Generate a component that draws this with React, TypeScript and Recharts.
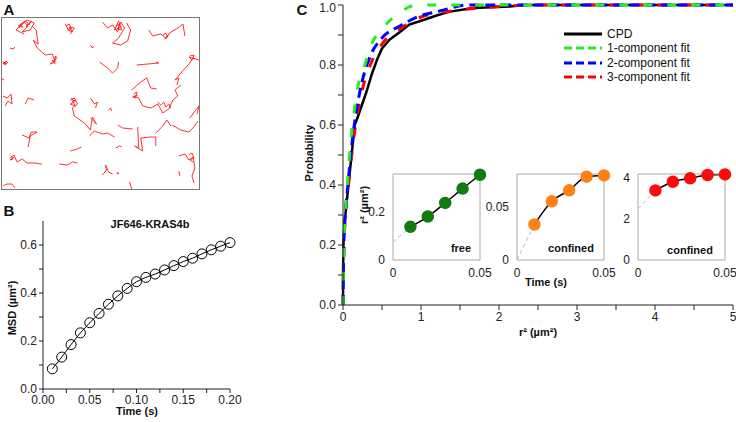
import React from 'react';
import {
    ScatterChart,
    Scatter,
    LineChart,
    Line,
    XAxis,
    YAxis,
    Legend
} from 'recharts';

const FONT = '"Liberation Sans", Arial, Helvetica, sans-serif';

// Panel A: single-molecule tracks (box pixel space, y from top)
const tracks: number[][][] = [
    [[17, 10], [22, 4], [26, 8], [20, 14], [28, 12], [32, 5], [25, 2], [19, 7], [14, 12], [22, 16]],
    [[18, 6], [21, 9], [16, 8], [23, 3], [26, 5], [24, 9], [29, 3], [27, 7]],
    [[30, 8], [34, 12], [36, 26], [31, 22], [35, 30], [43, 37], [50, 36], [53, 44], [48, 46], [55, 40]],
    [[51, 40], [54, 38], [52, 44], [50, 42], [53, 46]],
    [[63, 6], [66, 12], [70, 14], [67, 9], [72, 10], [68, 16]],
    [[64, 8], [67, 6], [69, 11], [65, 11], [68, 13]],
    [[100, 4], [105, 10], [110, 7], [115, 14], [118, 4], [122, 10], [116, 20], [110, 25], [118, 27], [125, 23], [128, 12], [124, 5]],
    [[113, 8], [117, 6], [115, 11], [119, 12], [116, 3], [112, 12], [119, 9]],
    [[146, 12], [150, 18], [158, 16], [163, 20], [168, 14], [175, 10], [180, 6], [182, 18]],
    [[160, 17], [163, 15], [165, 19], [162, 21], [166, 16]],
    [[8, 30], [11, 31], [13, 29]],
    [[88, 27], [90, 30], [91, 28]],
    [[97, 44], [105, 50], [110, 55], [115, 50], [116, 44]],
    [[134, 47], [145, 46], [156, 45], [153, 44]],
    [[1, 44], [4, 46], [6, 44], [3, 47], [2, 45], [5, 43], [1, 46], [4, 44]],
    [[129, 72], [138, 64], [144, 60], [148, 70], [154, 71]],
    [[196, 42], [190, 40], [186, 46], [178, 55], [172, 62], [176, 60], [174, 67]],
    [[187, 38], [191, 37], [189, 42], [186, 39], [192, 41]],
    [[131, 78], [136, 80], [140, 88], [148, 90], [155, 86], [160, 95], [166, 91], [170, 82], [175, 78], [172, 72], [178, 67]],
    [[131, 76], [134, 74], [133, 80], [130, 79], [135, 77]],
    [[155, 84], [158, 87], [161, 84], [163, 89], [166, 86], [168, 90]],
    [[1, 78], [5, 80], [9, 76], [10, 86], [6, 83], [3, 88]],
    [[23, 86], [26, 80], [32, 82]],
    [[68, 82], [72, 80], [75, 86], [70, 90], [72, 98], [82, 105], [88, 112], [90, 99], [94, 106], [88, 100]],
    [[69, 80], [72, 84], [68, 86], [73, 88], [70, 83], [74, 82]],
    [[88, 80], [92, 86], [95, 84], [93, 90]],
    [[106, 92], [108, 90], [109, 93]],
    [[187, 100], [192, 93], [196, 88], [194, 96]],
    [[169, 107], [178, 112], [186, 114], [190, 110], [195, 103]],
    [[153, 115], [160, 108], [164, 102], [168, 108]],
    [[87, 118], [92, 113], [100, 116], [105, 115], [112, 119]],
    [[115, 107], [120, 110], [130, 111]],
    [[135, 109], [136, 130], [132, 128], [140, 133], [138, 120], [148, 119], [153, 119], [153, 128]],
    [[20, 117], [27, 120], [29, 114], [35, 114], [28, 118], [26, 129]],
    [[68, 133], [75, 131], [79, 129]],
    [[113, 130], [117, 128], [119, 129]],
    [[8, 140], [12, 137], [15, 144], [20, 141], [25, 145], [33, 145], [38, 146], [40, 146]],
    [[9, 138], [11, 141], [8, 142], [12, 139]],
    [[57, 146], [65, 147], [70, 144], [75, 145]],
    [[100, 157], [104, 152], [103, 147], [106, 154], [110, 156]],
    [[114, 155], [116, 156], [115, 154]],
    [[176, 138], [182, 136], [186, 142], [190, 139], [192, 150], [189, 158], [191, 165]],
    [[186, 137], [189, 135], [191, 140], [187, 142], [190, 144]],
    [[176, 153], [177, 158]],
    [[1, 168], [5, 166], [10, 166], [13, 170]],
    [[127, 164], [129, 171]],
    [[0, 61], [2, 62]]
];

// Panel B: MSD vs time
const msdTime = [0.01, 0.02, 0.03, 0.04, 0.05, 0.06, 0.07, 0.08, 0.09, 0.10,
    0.11, 0.12, 0.13, 0.14, 0.15, 0.16, 0.17, 0.18, 0.19, 0.20];
const msdValues = [0.084, 0.133, 0.185, 0.234, 0.276, 0.315, 0.353, 0.388, 0.419, 0.447,
    0.465, 0.479, 0.496, 0.514, 0.531, 0.545, 0.563, 0.58, 0.595, 0.61];
const bTimeTicks = [0, 0.025, 0.05, 0.075, 0.1, 0.125, 0.15, 0.175, 0.2];
const bMsdTicks = [0, 0.1, 0.2, 0.3, 0.4, 0.5, 0.6];

// Panel C: cumulative probability distribution and fits
const cpdR2 = [0, 0.002, 0.005, 0.01, 0.02, 0.03, 0.05, 0.07, 0.09, 0.11, 0.13, 0.15, 0.18, 0.22, 0.26, 0.3, 0.37, 0.44, 0.5, 0.6, 0.73, 0.85, 1.03, 1.2, 1.37, 1.67, 2.14, 2.3, 5];
const cpdProb = [0, 0.12, 0.2, 0.22, 0.28, 0.3, 0.35, 0.4, 0.45, 0.5, 0.55, 0.6, 0.62, 0.65, 0.68, 0.71, 0.77, 0.82, 0.855, 0.885, 0.91, 0.935, 0.95, 0.965, 0.978, 0.99, 0.995, 1, 1];
const fit1R2 = [0, 0.01, 0.03, 0.06, 0.1, 0.15, 0.2, 0.28, 0.35, 0.5, 0.7, 0.95, 5];
const fit1Prob = [0, 0.2, 0.3, 0.42, 0.55, 0.66, 0.74, 0.8, 0.86, 0.92, 0.97, 1, 1];
const fit2R2 = [0, 0.01, 0.03, 0.07, 0.12, 0.18, 0.25, 0.35, 0.5, 0.73, 0.95, 1.24, 1.6, 5];
const fit2Prob = [0, 0.2, 0.3, 0.42, 0.55, 0.66, 0.75, 0.83, 0.89, 0.93, 0.96, 0.98, 1, 1];
const fit3R2 = [0, 0.01, 0.03, 0.07, 0.12, 0.18, 0.25, 0.35, 0.5, 0.73, 1.0, 1.4, 2.0, 2.6, 5];
const fit3Prob = [0, 0.15, 0.3, 0.4, 0.52, 0.63, 0.72, 0.8, 0.87, 0.92, 0.96, 0.98, 0.995, 1, 1];
const cR2Ticks = [0, 0.5, 1, 1.5, 2, 2.5, 3, 3.5, 4, 4.5, 5];
const cProbTicks = [0, 0.1, 0.2, 0.3, 0.4, 0.5, 0.6, 0.7, 0.8, 0.9, 1];

// Insets
const insetTime = [0.01, 0.02, 0.03, 0.04, 0.05];
const freeR2 = [0.139, 0.182, 0.239, 0.299, 0.357];
const confinedR2 = [0.033, 0.0546, 0.0648, 0.0775, 0.0787];
const confinedBR2 = [3.4, 3.82, 3.99, 4.15, 4.18];
const freeStart = 0.075;
const confinedStart = 0;
const confinedBStart = 2.5;

const pairs = (xs: number[], ys: number[]) => xs.map((x, i) => ({ x, y: ys[i] }));

const Txt = ({ x, y, rotate = 0, bold = false, size = 12, children }: any) => (
    <div style={{
        position: 'absolute',
        left: x,
        top: y,
        transform: `translate(-50%, -50%) rotate(${rotate}deg)`,
        fontFamily: FONT,
        fontSize: size,
        fontWeight: bold ? 'bold' : 'normal',
        whiteSpace: 'nowrap',
        color: '#111'
    }}>{children}</div>
);

const NoDot = () => <g />;

const OpenCircle = (props: any) => {
    const { cx, cy } = props;
    if (cx === undefined || cy === undefined) return null;
    return <circle cx={cx} cy={cy} r={5} fill="none" stroke="#000" strokeWidth={1} />;
};

const tickStyle = { fontFamily: FONT, fontSize: 12, fill: '#222' };

const legendItems = [
    { name: 'CPD', color: '#000', dash: undefined },
    { name: '1-component fit', color: '#22ee22', dash: '8 4' },
    { name: '2-component fit', color: '#0000ff', dash: '8 4' },
    { name: '3-component fit', color: '#ff0000', dash: '8 4' }
];

const CpdLegend = () => (
    <div style={{ fontFamily: FONT, fontSize: 12, color: '#111' }}>
        {legendItems.map(it => (
            <div key={it.name} style={{ display: 'flex', alignItems: 'center', height: 14.3 }}>
                <svg width={40} height={6}>
                    <line x1={0} y1={3} x2={38} y2={3} stroke={it.color} strokeWidth={3} strokeDasharray={it.dash} />
                </svg>
                <span style={{ marginLeft: 3 }}>{it.name}</span>
            </div>
        ))}
    </div>
);

// plotLeft is the page x of the inset's left border
const Inset = ({ plotLeft, yWidth = 28, points, start, yMax, yTicks, color }: any) => {
    const pts = pairs(insetTime, points);
    const fitStart = [{ x: 0, y: start }, pts[0]];
    return (
        <div style={{ position: 'absolute', left: plotLeft - yWidth, top: 163 }}>
            <LineChart width={yWidth + 104} height={120} margin={{ top: 10, right: 16, left: 0, bottom: 7 }}>
                <XAxis dataKey="x" type="number" domain={[0, 0.05]} ticks={[0, 0.05]}
                    tickFormatter={(v: number) => (v === 0 ? '0' : '0.05')}
                    stroke="#aaa" tickLine={false} height={16} tick={tickStyle} />
                <XAxis xAxisId="top" orientation="top" type="number" domain={[0, 0.05]}
                    stroke="#aaa" tick={false} tickLine={false} height={1} />
                <YAxis dataKey="y" type="number" domain={[0, yMax]} ticks={yTicks}
                    tickFormatter={(v: number) => String(v)}
                    stroke="#aaa" tickLine={false} width={yWidth} tick={tickStyle} />
                <YAxis yAxisId="right" orientation="right" type="number" domain={[0, yMax]}
                    stroke="#aaa" tick={false} tickLine={false} width={1} />
                <Line data={fitStart} dataKey="y" stroke="#bbb" strokeWidth={1} strokeDasharray="4 3"
                    dot={false} isAnimationActive={false} />
                <Line data={pts} dataKey="y" type="monotone" stroke="#000" strokeWidth={1.5}
                    dot={{ r: 5.5, fill: color, stroke: color }} isAnimationActive={false} />
            </LineChart>
        </div>
    );
};

export default function App() {
    const msdData = pairs(msdTime, msdValues);
    return (
        <div style={{ position: 'absolute', left: 0, top: 0, width: 736, height: 422, background: '#fff', fontFamily: FONT }}>
            {/* Panel A */}
            <div style={{ position: 'absolute', left: 1, top: 17, width: 197, height: 171, border: '1px solid #777' }}>
                <ScatterChart width={197} height={171} margin={{ top: 0, right: 0, left: 0, bottom: 0 }}>
                    <XAxis dataKey="x" type="number" domain={[0, 196]} hide />
                    <YAxis dataKey="y" type="number" domain={[0, 171]} reversed hide />
                    {tracks.map((t, i) => (
                        <Scatter key={`trk-${i}`} data={t.map(p => ({ x: p[0], y: p[1] }))}
                            line={{ stroke: '#ff1a1a', strokeWidth: 0.9 }} shape={<NoDot />}
                            isAnimationActive={false} />
                    ))}
                </ScatterChart>
            </div>

            {/* Panel B */}
            <div style={{ position: 'absolute', left: 0, top: 195 }}>
                <LineChart width={245} height={219} data={msdData} margin={{ top: 26, right: 15, left: 13, bottom: 5 }}>
                    <XAxis dataKey="x" type="number" domain={[0, 0.2]} ticks={bTimeTicks}
                        tickFormatter={(v: number) => (Math.round(v * 1000) % 50 === 0 ? v.toFixed(2) : '')}
                        stroke="#222" tickSize={4} height={20} tick={tickStyle} />
                    <YAxis type="number" domain={[0, 0.7]} ticks={bMsdTicks}
                        tickFormatter={(v: number) => (Math.round(v * 10) % 2 === 0 ? v.toFixed(1) : '')}
                        stroke="#222" tickSize={4} width={30} tick={tickStyle} />
                    <Line dataKey="y" stroke="#000" strokeWidth={1} dot={<OpenCircle />} isAnimationActive={false} />
                </LineChart>
            </div>

            {/* Panel C */}
            <div style={{ position: 'absolute', left: 290, top: 0 }}>
                <LineChart width={446} height={330} margin={{ top: 5, right: 3, left: 18, bottom: 0 }}>
                    <XAxis dataKey="x" type="number" domain={[0, 5]} ticks={cR2Ticks}
                        tickFormatter={(v: number) => (Number.isInteger(v) ? String(v) : '')}
                        stroke="#222" tickSize={5} height={25} tick={tickStyle} />
                    <YAxis dataKey="y" type="number" domain={[0, 1]} ticks={cProbTicks}
                        tickFormatter={(v: number) => (Math.round(v * 10) % 2 === 0 ? v.toFixed(1) : '')}
                        stroke="#222" tickSize={5} width={35} tick={tickStyle} />
                    <Legend content={<CpdLegend />} layout="vertical" align="center" verticalAlign="middle"
                        wrapperStyle={{ position: 'absolute', left: 274, top: 27, width: 'auto', height: 'auto' }} />
                    <Line data={pairs(cpdR2, cpdProb)} dataKey="y" type="linear" stroke="#000"
                        strokeWidth={2.5} dot={false} isAnimationActive={false} />
                    <Line data={pairs(fit3R2, fit3Prob)} dataKey="y" type="monotone" stroke="#ff0000"
                        strokeWidth={3} strokeDasharray="10 14" dot={false} isAnimationActive={false} />
                    <Line data={pairs(fit2R2, fit2Prob)} dataKey="y" type="monotone" stroke="#0000ff"
                        strokeWidth={3} strokeDasharray="10 6" dot={false} isAnimationActive={false} />
                    <Line data={pairs(fit1R2, fit1Prob)} dataKey="y" type="monotone" stroke="#22ee22"
                        strokeWidth={3} strokeDasharray="9 15" dot={false} isAnimationActive={false} />
                </LineChart>
            </div>

            <Inset plotLeft={393} points={freeR2} start={freeStart} yMax={0.36} yTicks={[0, 0.2]} color="#137a13" />
            <Inset plotLeft={517} yWidth={36} points={confinedR2} start={confinedStart} yMax={0.08} yTicks={[0, 0.05]} color="#ff8016" />
            <Inset plotLeft={638} points={confinedBR2} start={confinedBStart} yMax={4.2} yTicks={[0, 2, 4]} color="#ff0a0a" />

            {/* Text */}
            <Txt x={9} y={9} bold size={15}>A</Txt>
            <Txt x={9} y={210} bold size={15}>B</Txt>
            <Txt x={302} y={9} bold size={15}>C</Txt>
            <Txt x={150} y={224} bold size={11}>JF646-KRAS4b</Txt>
            <Txt x={12} y={308} rotate={-90} bold size={11}>MSD (µm²)</Txt>
            <Txt x={137} y={411} bold size={11}>Time (s)</Txt>
            <Txt x={309} y={153} rotate={-90} bold size={11}>Probability</Txt>
            <Txt x={538} y={332} bold size={11}>r² (µm²)</Txt>
            <Txt x={364} y={205} rotate={-90} bold size={11}>r² (µm²)</Txt>
            <Txt x={546} y={282} bold size={11}>Time (s)</Txt>
            <Txt x={461} y={248} bold size={11}>free</Txt>
            <Txt x={571} y={248} bold size={11}>confined</Txt>
            <Txt x={690} y={250} bold size={11}>confined</Txt>
        </div>
    );
}
